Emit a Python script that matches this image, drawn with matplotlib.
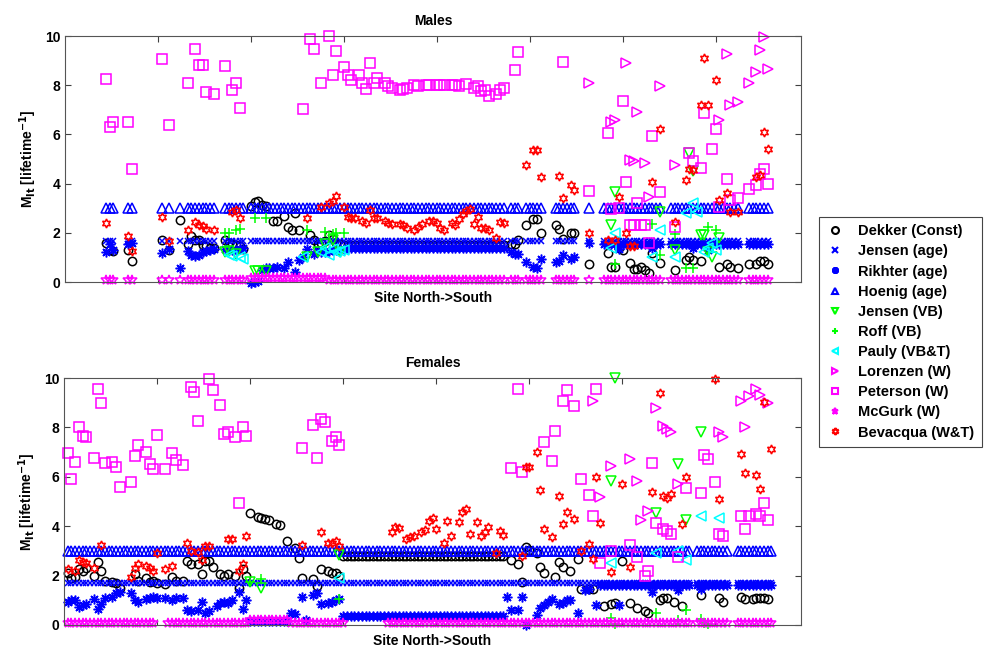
import matplotlib
matplotlib.use('Agg')
import matplotlib.pyplot as plt
from matplotlib.lines import Line2D

plt.rcParams['font.family'] = ['Liberation Sans', 'DejaVu Sans']
plt.rcParams['font.weight'] = 'bold'
plt.rcParams['mathtext.default'] = 'bf'

# site runs (first, last) present in each panel
sites_m = [(11, 13), (17, 18), (26, 26), (28, 28), (31, 31), (33, 40), (43, 48),
           (50, 118), (120, 122), (124, 128), (132, 137), (141, 141),
           (145, 160), (163, 181), (184, 189)]
sites_f = [(1, 168), (170, 178), (181, 190)]

hoenig_m, hoenig_f = 3.0, 3.0
jensen_age_m, jensen_age_f = 1.65, 1.7
# McGurk runs (first, last, value)
mcgurk_m = [(11, 49, 0.1), (50, 70, 0.15), (71, 189, 0.1)]
mcgurk_f = [(1, 24, 0.1), (28, 49, 0.1), (50, 60, 0.2), (61, 75, 0.1),
            (87, 168, 0.1), (170, 178, 0.1), (181, 190, 0.1)]

# ---------------- Males: (site, value)
dekker_m = [(11, 1.6), (12, 1.3), (13, 1.25), (17, 1.3), (18, 0.85),
            (26, 1.7), (28, 1.3), (31, 2.52), (33, 1.55), (34, 1.85), (35, 1.7), (36, 1.7),
            (37, 1.5), (38, 1.45), (39, 1.4), (40, 1.4),
            (43, 1.7), (44, 1.6), (45, 1.55), (46, 1.5), (47, 1.45), (48, 1.35),
            (50, 3.1), (51, 3.25), (52, 3.3), (53, 3.15), (54, 3.1), (56, 2.5), (57, 2.5),
            (59, 2.7), (60, 2.25), (61, 2.1), (62, 2.8), (63, 2.1), (66, 1.9), (67, 1.7),
            (68, 1.55), (69, 1.6), (70, 1.65), (71, 1.9), (72, 1.75), (73, 1.6), (74, 1.55), (75, 1.5),
            (120, 1.55), (121, 1.55), (122, 1.7), (124, 2.3), (126, 2.55), (127, 2.55), (128, 2.0),
            (132, 2.3), (133, 2.15), (134, 1.75), (136, 2.0), (137, 2.0), (141, 0.75),
            (146, 1.18), (147, 0.62), (148, 0.62), (149, 1.38), (150, 1.3), (152, 0.77),
            (153, 0.53), (154, 0.53), (155, 0.6), (156, 0.5), (157, 0.37), (158, 1.18), (160, 0.77),
            (164, 0.5), (167, 0.9), (168, 1.0), (169, 0.9), (171, 0.85), (176, 0.6), (178, 0.75),
            (179, 0.6), (181, 0.55), (184, 0.75), (186, 0.75), (187, 0.85), (188, 0.85), (189, 0.75)]
dekker_m_runs = [(76, 118, 1.5)]

rikhter_m = [(11, 1.2), (12, 1.55), (13, 1.3), (17, 1.55), (18, 1.6),
             (26, 1.18), (28, 1.35), (31, 0.57), (33, 1.25), (34, 1.1), (35, 1.05), (36, 1.1),
             (37, 1.2), (38, 1.25), (39, 1.3), (40, 1.35),
             (43, 1.35), (44, 1.3), (45, 1.3), (46, 1.3), (47, 1.35), (48, 1.4),
             (50, -0.05), (51, 0.0), (52, 0.05), (53, 0.5), (54, 0.55), (55, 0.55), (56, 0.55),
             (57, 0.6), (59, 0.55), (60, 0.8), (62, 0.4), (63, 0.9), (64, 1.0), (65, 1.35),
             (67, 1.15), (68, 1.25), (69, 1.2), (70, 1.2), (71, 1.25), (72, 1.3), (73, 1.3),
             (74, 1.35), (75, 1.35),
             (120, 1.2), (121, 1.15), (122, 1.15), (124, 0.8), (126, 0.6), (127, 0.55), (128, 0.95),
             (132, 0.8), (133, 0.85), (134, 1.1), (136, 0.95), (137, 1.0), (141, 1.6),
             (149, 1.35), (158, 1.4), (169, 1.4), (173, 1.3)]
rikhter_m_runs = [(76, 118, 1.38), (145, 160, 1.55), (163, 181, 1.55), (184, 189, 1.55)]

jensen_vb_m = [(43, 1.2), (44, 1.25), (46, 1.15), (51, 0.45), (52, 0.45), (54, 0.45), (65, 1.0),
               (68, 1.2), (70, 1.55), (72, 1.7), (74, 1.2), (147, 2.3), (148, 3.65), (160, 2.85),
               (164, 1.3), (168, 5.25), (169, 4.5), (171, 1.9), (172, 1.9), (173, 1.2),
               (174, 1.0), (176, 1.8)]
roff_m = [(43, 2.0), (44, 2.0), (46, 2.1), (47, 2.15), (51, 2.6), (54, 2.6), (65, 2.1),
          (70, 2.05), (72, 1.95), (73, 2.0), (75, 2.0), (148, 0.75), (158, 2.35), (160, 1.1),
          (164, 1.95), (167, 0.55), (169, 0.55), (173, 2.25), (175, 2.1)]
pauly_m = [(44, 1.1), (45, 1.05), (47, 1.0), (48, 0.95), (64, 1.0), (69, 1.2), (70, 1.4),
           (71, 1.1), (72, 1.35), (73, 1.2), (74, 1.25), (75, 1.3), (147, 1.4), (148, 2.0),
           (158, 1.0), (160, 2.1), (164, 1.0), (167, 2.8), (169, 3.2), (170, 2.85),
           (172, 1.2), (173, 1.4), (174, 1.6), (175, 1.3)]
lorenzen_m = [(141, 8.1), (147, 6.5), (148, 6.6), (151, 8.9), (152, 4.95), (153, 4.9),
              (154, 6.9), (156, 4.85), (157, 3.45), (160, 7.95), (164, 4.75), (176, 6.6),
              (178, 9.25), (179, 7.2), (181, 7.3), (184, 8.1), (186, 8.55), (187, 9.45),
              (188, 9.95), (189, 8.65)]
peterson_m = [(11, 8.25), (12, 6.3), (13, 6.5), (17, 6.5), (18, 4.6), (26, 9.07), (28, 6.38),
              (33, 8.09), (35, 9.47), (36, 8.82), (37, 8.82), (38, 7.72), (40, 7.64),
              (43, 8.78), (45, 7.8), (46, 8.09), (47, 7.07),
              (64, 7.03), (66, 9.88), (67, 9.47), (69, 8.08), (71, 10.0), (72, 8.42), (73, 9.4),
              (75, 8.74), (76, 8.4), (77, 8.2), (79, 8.4), (80, 8.1), (81, 7.85), (82, 8.9),
              (83, 8.1), (84, 8.3), (86, 8.1), (87, 7.95), (88, 7.9), (90, 7.8), (91, 7.85),
              (92, 7.9), (94, 8.0), (95, 7.95), (97, 8.0), (98, 8.0), (100, 8.0), (101, 8.0),
              (102, 8.0), (104, 8.0), (105, 8.0), (106, 7.95), (108, 8.05), (110, 7.9),
              (111, 7.95), (112, 7.75), (113, 7.8), (114, 7.55), (116, 7.65), (117, 7.8),
              (118, 7.9), (121, 8.6), (122, 9.35), (134, 8.95), (141, 3.7),
              (146, 6.05), (147, 2.95), (149, 3.0), (150, 7.35), (151, 4.05), (152, 2.3),
              (153, 2.3), (154, 3.2), (155, 2.3), (156, 2.3), (157, 1.6), (158, 5.95), (160, 3.65),
              (164, 2.25), (168, 5.25), (169, 4.9), (171, 4.65), (172, 6.85), (174, 5.4),
              (175, 6.2), (176, 3.05), (178, 4.2), (179, 3.35), (181, 3.4),
              (184, 3.8), (186, 3.95), (187, 4.4), (188, 4.6), (189, 4.0)]
bevacqua_m = [(11, 2.4), (17, 1.85), (18, 1.25), (26, 2.64), (28, 1.67), (33, 2.1), (35, 2.44),
              (36, 2.3), (37, 2.28), (38, 2.15), (40, 2.1), (45, 2.85), (46, 2.93), (47, 2.6),
              (65, 2.6), (69, 3.05), (71, 3.2), (72, 3.3), (73, 3.5), (75, 3.05), (76, 2.65),
              (77, 2.6), (78, 2.6), (80, 2.5), (81, 2.4), (82, 2.93), (83, 2.6), (84, 2.6),
              (86, 2.5), (87, 2.4), (88, 2.35), (90, 2.35), (91, 2.3), (92, 2.2), (94, 2.1),
              (95, 2.25), (96, 2.35), (98, 2.5), (99, 2.5), (100, 2.4), (101, 2.2), (102, 2.1),
              (104, 2.4), (105, 2.3), (106, 2.55), (107, 2.75), (108, 2.9), (109, 2.95),
              (110, 2.35), (111, 2.65), (112, 2.2), (113, 2.2), (114, 2.1), (116, 1.8),
              (117, 2.45), (118, 2.4),
              (124, 4.75), (126, 5.35), (127, 5.35), (128, 4.25), (133, 4.3), (134, 3.4),
              (136, 3.95), (137, 3.75), (141, 2.0),
              (146, 1.7), (148, 1.7), (149, 3.45), (151, 2.0), (152, 1.45), (153, 1.45),
              (158, 4.05), (160, 6.2),
              (164, 2.45), (167, 4.15), (168, 4.6), (169, 4.55), (171, 7.2), (172, 9.1),
              (173, 7.2), (175, 8.2), (176, 3.35), (178, 3.6), (179, 2.85), (181, 2.85),
              (186, 4.25), (187, 4.35), (188, 6.1), (189, 5.4)]

# ---------------- Females: (site, value)
dekker_f = [(1, 2.1), (2, 1.9), (3, 1.95), (4, 2.27), (5, 2.2), (6, 2.3), (8, 2.0), (9, 2.55),
            (10, 2.2), (11, 1.8), (13, 1.75), (14, 1.7), (15, 1.5), (19, 2.05), (20, 1.8),
            (22, 1.9), (23, 1.75), (24, 1.8), (25, 1.7), (27, 1.65), (29, 1.95), (30, 1.8),
            (32, 1.8), (33, 2.6), (34, 2.45), (36, 2.45), (37, 2.05), (38, 2.6), (39, 2.6),
            (40, 2.35), (42, 2.05), (43, 2.0), (44, 2.05), (46, 2.0), (47, 1.5), (48, 2.25),
            (49, 2.0), (50, 4.55), (52, 4.38), (53, 4.35), (54, 4.3), (55, 4.25), (57, 4.1),
            (58, 4.05), (60, 3.4), (62, 3.1), (63, 2.7), (64, 1.9), (67, 1.85), (68, 1.58),
            (69, 2.25), (71, 2.2), (72, 2.1), (73, 2.1), (74, 2.0),
            (120, 2.63), (122, 2.47), (123, 1.75), (124, 3.16), (125, 3.05), (127, 2.9),
            (128, 2.35), (129, 2.1), (132, 1.95), (133, 2.55), (134, 2.35), (136, 2.2),
            (138, 2.67), (139, 1.45), (141, 1.45), (142, 1.45), (145, 0.78), (147, 0.85),
            (148, 0.88), (150, 2.6), (152, 0.88), (154, 0.7), (156, 0.55), (157, 0.5),
            (160, 1.0), (161, 1.1), (162, 1.1), (164, 0.95), (166, 0.78), (171, 1.2),
            (176, 1.1), (177, 0.95), (182, 1.15), (183, 1.05), (185, 1.05), (186, 1.1),
            (187, 1.1), (188, 1.1), (189, 1.05)]
dekker_f_runs = [(75, 118, 2.8)]

rikhter_f = [(1, 0.93), (2, 1.0), (3, 1.0), (4, 0.73), (5, 0.8), (6, 0.85), (8, 1.05), (9, 0.65),
             (10, 0.85), (11, 1.1), (13, 1.15), (14, 1.3), (15, 1.35), (18, 1.3), (19, 1.0),
             (20, 0.95), (22, 1.05), (23, 1.1), (24, 1.15), (25, 1.1), (27, 1.1), (29, 1.0),
             (30, 1.1), (32, 1.1), (33, 0.6), (34, 0.55), (36, 0.6), (37, 0.95), (38, 0.5),
             (39, 0.55), (41, 0.75), (42, 0.9), (43, 0.95), (44, 0.9), (45, 1.0), (47, 1.35),
             (48, 0.65), (49, 1.0), (61, 0.5), (62, 0.45), (64, 1.15), (65, 0.2), (67, 1.2),
             (68, 1.3), (69, 0.85), (71, 0.9), (72, 0.95), (73, 1.0), (74, 1.05),
             (119, 1.15), (120, 0.6), (122, 0.6), (123, 1.15), (124, -0.02), (127, 0.4),
             (128, 0.7), (129, 0.8), (130, 0.95), (131, 1.05), (133, 0.85), (134, 0.9),
             (135, 1.0), (136, 1.0), (138, 0.5), (140, 1.4), (141, 1.45), (143, 0.8),
             (149, 0.8), (158, 1.35), (165, 1.4), (171, 1.45)]
rikhter_f_runs = [(50, 60, 0.15), (75, 118, 0.35), (144, 168, 1.6), (170, 178, 1.6), (181, 190, 1.6)]

jensen_vb_f = [(50, 1.75), (53, 1.5), (74, 2.85), (147, 5.85), (148, 10.0), (159, 4.55),
               (165, 6.5), (167, 4.25), (171, 7.82)]
roff_f = [(50, 1.75), (53, 1.85), (74, 1.05), (147, 0.3), (148, 0.05), (159, 0.5), (165, 0.2),
          (167, 0.6), (171, 0.25), (172, 0.1), (173, 0.05)]
pauly_f = [(74, 1.9), (147, 2.5), (159, 2.9), (165, 3.0), (167, 2.65), (171, 4.4), (176, 4.35)]
lorenzen_f = [(142, 9.08), (144, 5.2), (147, 6.45), (152, 6.73), (154, 5.85), (155, 4.25),
              (157, 4.6), (159, 8.8), (161, 8.07), (162, 7.95), (163, 7.82), (165, 5.7),
              (176, 7.8), (177, 7.6), (182, 9.08), (183, 8.03), (184, 9.28), (186, 9.55),
              (187, 9.3), (189, 9.0)]
peterson_f = [(1, 6.97), (2, 5.9), (3, 6.6), (4, 8.03), (5, 7.65), (6, 7.6), (8, 6.77), (9, 9.55),
              (10, 9.0), (11, 6.55), (13, 6.6), (14, 6.4), (15, 5.6), (18, 5.8), (19, 6.85),
              (20, 7.3), (22, 7.0), (23, 6.5), (24, 6.3), (25, 7.7), (27, 6.3), (29, 6.97),
              (30, 6.7), (32, 6.48), (34, 9.65), (35, 9.45), (36, 8.27), (39, 9.97), (40, 9.5),
              (42, 8.92), (43, 7.73), (44, 7.83), (46, 7.6), (47, 4.95), (48, 8.03), (49, 7.65),
              (64, 7.17), (67, 8.1), (68, 6.77), (69, 8.35), (70, 8.2), (72, 7.45), (73, 7.6),
              (74, 7.3),
              (120, 6.35), (122, 9.55), (123, 6.2), (129, 7.4), (131, 6.65), (132, 7.85),
              (134, 9.05), (135, 9.5), (137, 8.88), (139, 5.9), (141, 5.27), (142, 4.4),
              (143, 9.55), (144, 2.5), (147, 3.0), (152, 3.25), (154, 2.75), (156, 2.0),
              (157, 2.2), (158, 6.55), (159, 4.13), (161, 3.9), (162, 3.8), (163, 3.7),
              (165, 2.75), (167, 5.55), (171, 5.35), (172, 6.9), (173, 6.72), (175, 5.8),
              (176, 3.7), (177, 3.6), (182, 4.4), (183, 3.9), (184, 4.4), (186, 4.5),
              (187, 4.4), (188, 4.95), (189, 4.25)]
bevacqua_f = [(1, 2.27), (3, 2.2), (4, 2.63), (5, 2.55), (6, 2.5), (8, 2.3), (10, 3.23),
              (18, 1.95), (19, 2.3), (20, 2.45), (22, 2.4), (23, 2.3), (24, 2.2), (25, 2.9),
              (27, 2.27), (29, 2.4), (33, 3.3), (34, 3.0), (36, 2.95), (37, 2.65), (38, 3.2),
              (39, 3.2), (44, 3.5), (45, 3.5), (47, 2.2), (48, 2.45), (49, 3.6),
              (64, 3.25), (69, 3.75), (71, 3.3), (72, 3.3), (73, 3.4), (74, 3.2),
              (88, 3.75), (89, 3.97), (90, 3.93), (92, 3.5), (93, 3.55), (94, 3.6), (96, 3.75),
              (97, 3.85), (98, 4.2), (99, 4.35), (100, 3.9), (102, 3.3), (103, 4.2), (104, 3.6),
              (106, 4.15), (107, 4.58), (108, 4.7), (109, 3.7), (111, 4.15), (112, 3.6),
              (113, 3.75), (114, 3.97), (116, 2.9), (117, 3.8), (118, 3.65),
              (123, 2.8), (124, 6.4), (125, 6.4), (127, 7.0), (128, 5.47), (129, 3.9),
              (131, 3.57), (133, 5.22), (134, 4.1), (135, 4.58), (137, 4.3), (139, 3.0),
              (141, 3.28), (142, 2.67), (143, 6.0), (144, 4.13), (147, 2.15), (150, 5.7),
              (152, 2.35), (158, 5.4), (160, 9.4), (161, 5.22), (162, 5.15), (163, 5.3),
              (166, 4.1), (167, 6.0), (175, 9.97), (176, 5.1), (182, 6.93), (183, 6.15),
              (186, 6.08), (187, 5.5), (188, 9.03), (190, 7.13)]

GREEN, BLUE, CYAN, MAG, RED = '#00ff00', '#0000ff', '#00ffff', '#ff00ff', '#ff0000'
styles = [  # label, marker, colour, size
    ('Dekker (Const)', 'o', 'k', 6),
    ('Jensen (age)', 'x', BLUE, 5),
    ('Rikhter (age)', (8, 2, 0), BLUE, 7),
    ('Hoenig (age)', '^', BLUE, 6.5),
    ('Jensen (VB)', 'v', GREEN, 6.5),
    ('Roff (VB)', '+', GREEN, 7),
    ('Pauly (VB&T)', '<', CYAN, 6.5),
    ('Lorenzen (W)', '>', MAG, 6.5),
    ('Peterson (W)', 's', MAG, 6.5),
    ('McGurk (W)', '*', MAG, 7),
    ('Bevacqua (W&T)', (6, 1, 0), RED, 6.5),
]


def expand(runs, sites):
    # runs of equal value, limited to the sites present in the panel
    ok = set()
    for a, b in sites:
        ok.update(range(a, b + 1))
    xs, ys = [], []
    for a, b, v in runs:
        for s in range(a, b + 1):
            if s in ok:
                xs.append(s)
                ys.append(v)
    return xs, ys


def pairs(pts, runs=(), sites=()):
    xs = [p[0] for p in pts]
    ys = [p[1] for p in pts]
    rx, ry = expand(runs, sites)
    return xs + rx, ys + ry


def panel(ax, title, series):
    for (lab, mk, col, ms), (xs, ys) in zip(styles, series):
        ax.plot(xs, ys, ls='none', marker=mk, color=col, mfc='none', ms=ms, mew=1.1,
                clip_on=False)
    ax.set_xlim(0, 198)
    ax.set_ylim(0, 10)
    ax.set_xticks(range(25, 198, 25))
    ax.set_xticklabels([])
    ax.set_yticks(range(0, 11, 2))
    ax.tick_params(direction='in', top=True, right=True, length=4, labelsize=10, color='#404040')
    for sp in ax.spines.values():
        sp.set_color('#555555')
    ax.set_title(title, fontsize=10, pad=8, fontweight='bold')
    ax.set_xlabel('Site North->South', fontsize=10, labelpad=3, fontweight='bold')
    ax.set_ylabel(r'M$_{\mathrm{\mathbf{lt}}}$ [lifetime$^{\mathbf{-1}}$]', fontsize=10,
                  fontweight='bold')


def build(sites, dek, dek_runs, rik, rik_runs, hoe, jage, mcg, jvb, roff, pauly, lor, pet, bev):
    return [pairs(dek, dek_runs, sites),
            expand([(a, b, jage) for a, b in sites], sites),
            pairs(rik, rik_runs, sites),
            expand([(a, b, hoe) for a, b in sites], sites),
            pairs(jvb), pairs(roff), pairs(pauly), pairs(lor), pairs(pet),
            expand(mcg, sites),
            pairs(bev)]


fig = plt.figure(figsize=(9.93, 6.49), dpi=100)
ax1 = fig.add_axes([65 / 993, 1 - 282 / 649, 736 / 993, 246 / 649])
ax2 = fig.add_axes([64 / 993, 1 - 625 / 649, 737 / 993, 247 / 649])

panel(ax1, 'Males', build(sites_m, dekker_m, dekker_m_runs, rikhter_m, rikhter_m_runs,
                          hoenig_m, jensen_age_m, mcgurk_m, jensen_vb_m, roff_m, pauly_m,
                          lorenzen_m, peterson_m, bevacqua_m))
panel(ax2, 'Females', build(sites_f, dekker_f, dekker_f_runs, rikhter_f, rikhter_f_runs,
                            hoenig_f, jensen_age_f, mcgurk_f, jensen_vb_f, roff_f, pauly_f,
                            lorenzen_f, peterson_f, bevacqua_f))

handles = [Line2D([], [], ls='none', marker=mk, color=col, mfc='none', ms=5, mew=1.5)
           for lab, mk, col, ms in styles]
leg = fig.legend(handles, [s[0] for s in styles], loc='upper left',
                 bbox_to_anchor=(819 / 993, 1 - 217 / 649),
                 prop={'size': 10.5, 'weight': 'bold'},
                 frameon=True, fancybox=False, edgecolor='#444444', framealpha=1,
                 handlelength=1.2, handletextpad=1.0, labelspacing=0.42, borderpad=0.5,
                 borderaxespad=0)
leg.get_frame().set_linewidth(0.8)

fig.savefig('out.png', dpi=100)
